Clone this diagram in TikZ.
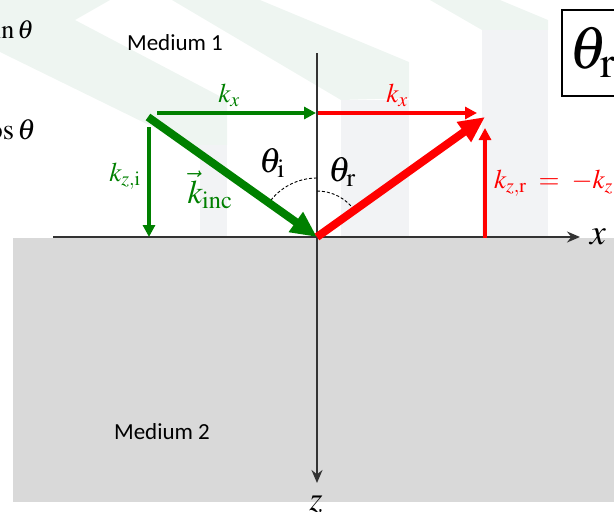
\documentclass[tikz,border=0pt]{standalone}
\usepackage{mathptmx}
\usepackage{fontspec}
\setmainfont{Liberation Serif}
\newfontfamily\calibrifont{Carlito}
\usetikzlibrary{arrows.meta}
\definecolor{kgreen}{HTML}{008000}
\definecolor{kred}{HTML}{FF0000}
\definecolor{medgray}{HTML}{D9D9D9}
\definecolor{wmgreen}{HTML}{EEF5F1}
\definecolor{wmgray}{HTML}{F2F3F5}
\definecolor{axisgray}{HTML}{333333}
\newcommand\setfs[1]{\fontsize{#1}{#1}\selectfont}
\begin{document}
\begin{tikzpicture}[x=1pt,y=-1pt,
  thinarrow/.style={line width=3.4pt,-{Triangle[length=12pt,width=12pt]}},
  thickarrow/.style={line width=8pt,-{Triangle[length=26pt,width=23pt]}},
  axisline/.style={line width=1.5pt,draw=axisgray,-{Stealth[length=13pt,width=11pt]}},
  anglearc/.style={line width=0.9pt,dash pattern=on 3pt off 2pt},
  lbl/.style={inner sep=0pt},
  medlbl/.style={inner sep=0pt,font=\calibrifont\setfs{23}}]
\useasboundingbox (0,0) rectangle (614,512);
\clip (0,0) rectangle (614,512);
% faint watermark
\fill[wmgreen] (0,0) -- (110,0) -- (75,20) -- (227,100) -- (227,145) -- (200,150) -- (0,52) -- cycle;
\fill[wmgreen] (172,0) -- (260,0) -- (409,62) -- (409,98) -- (341,100) -- cycle;
\fill[wmgreen] (430,0) -- (500,0) -- (548,20) -- (548,30) -- (482,30) -- cycle;
\fill[wmgray] (200,145) rectangle (227,237);
\fill[wmgray] (341,100) rectangle (409,237);
\fill[wmgray] (482,30) rectangle (548,237);
% medium 2
\fill[medgray] (13,238) rectangle (614,502);
% coordinates
\coordinate (O) at (317,237);
\coordinate (xs) at (53,237);
\coordinate (xe) at (580,237);
\coordinate (zs) at (317,53);
\coordinate (ze) at (317,483);
\coordinate (gi) at (148,117);
\coordinate (gkxs) at (157,113);
\coordinate (gkxe) at (316,113);
\coordinate (gkzs) at (149,127);
\coordinate (gkze) at (149,237);
\coordinate (rkxs) at (318,113);
\coordinate (rkxe) at (477,113);
\coordinate (rt) at (485,117);
\coordinate (rkzs) at (485,238);
\coordinate (rkze) at (485,128);
% axes
\draw[axisline] (xs) -- (xe);
\draw[axisline] (zs) -- (ze);
% angle arcs
\draw[anglearc] (317,178) arc[start angle=-90,end angle=-144.6,radius=59];
\draw[anglearc] (317,191) arc[start angle=-90,end angle=-35.5,radius=46];
% green vectors
\draw[thinarrow,kgreen] (gkxs) -- (gkxe);
\draw[thinarrow,kgreen] (gkzs) -- (gkze);
\draw[thickarrow,kgreen] (gi) -- (O);
% red vectors
\draw[thinarrow,kred] (rkxs) -- (rkxe);
\draw[thinarrow,kred] (rkzs) -- (rkze);
\draw[thickarrow,kred] (O) -- (rt);
% labels
\node[lbl,text=kgreen,font=\setfs{27}] (kxg) at (229,95) {$k_x$};
\node[lbl,text=kred,font=\setfs{27}] (kxr) at (397,95) {$k_x$};
\node[lbl,font=\setfs{35}] (thi) at (272,163) {$\theta_{\mathrm{i}}$};
\node[lbl,font=\setfs{35}] (thr) at (342,172) {$\theta_{\mathrm{r}}$};
\node[lbl,text=kgreen,font=\setfs{33}] (kinc) at (210,190) {$\vec{k}_{\mathrm{inc}}$};
\node[lbl,text=kgreen,font=\setfs{27}] (kzi) at (125,176) {$k_{z,\mathrm{i}}$};
\node[lbl,text=kred,font=\setfs{27},anchor=west] (kzr) at (494,183) {$k_{z,\mathrm{r}}\;=\;-k_{z,\mathrm{i}}$};
\node[lbl,font=\setfs{36}] (xl) at (598,237) {$x$};
\node[lbl,font=\setfs{34}] (zl) at (316,504) {$z$};
\node[medlbl] (m1) at (175,43) {Medium 1};
\node[medlbl] (m2) at (162,432) {Medium 2};
\node[lbl,font=\setfs{26},anchor=east] (sinl) at (34,30) {$\sin\theta$};
\node[lbl,font=\setfs{29},anchor=east] (cosl) at (36,130) {$\cos\theta$};
% framed theta_r
\draw[line width=2pt] (562,10) rectangle (660,96);
\node[lbl,font=\setfs{60},anchor=west] (thbox) at (569,52) {$\theta_{\mathrm{r}}$};
\end{tikzpicture}
\end{document}
